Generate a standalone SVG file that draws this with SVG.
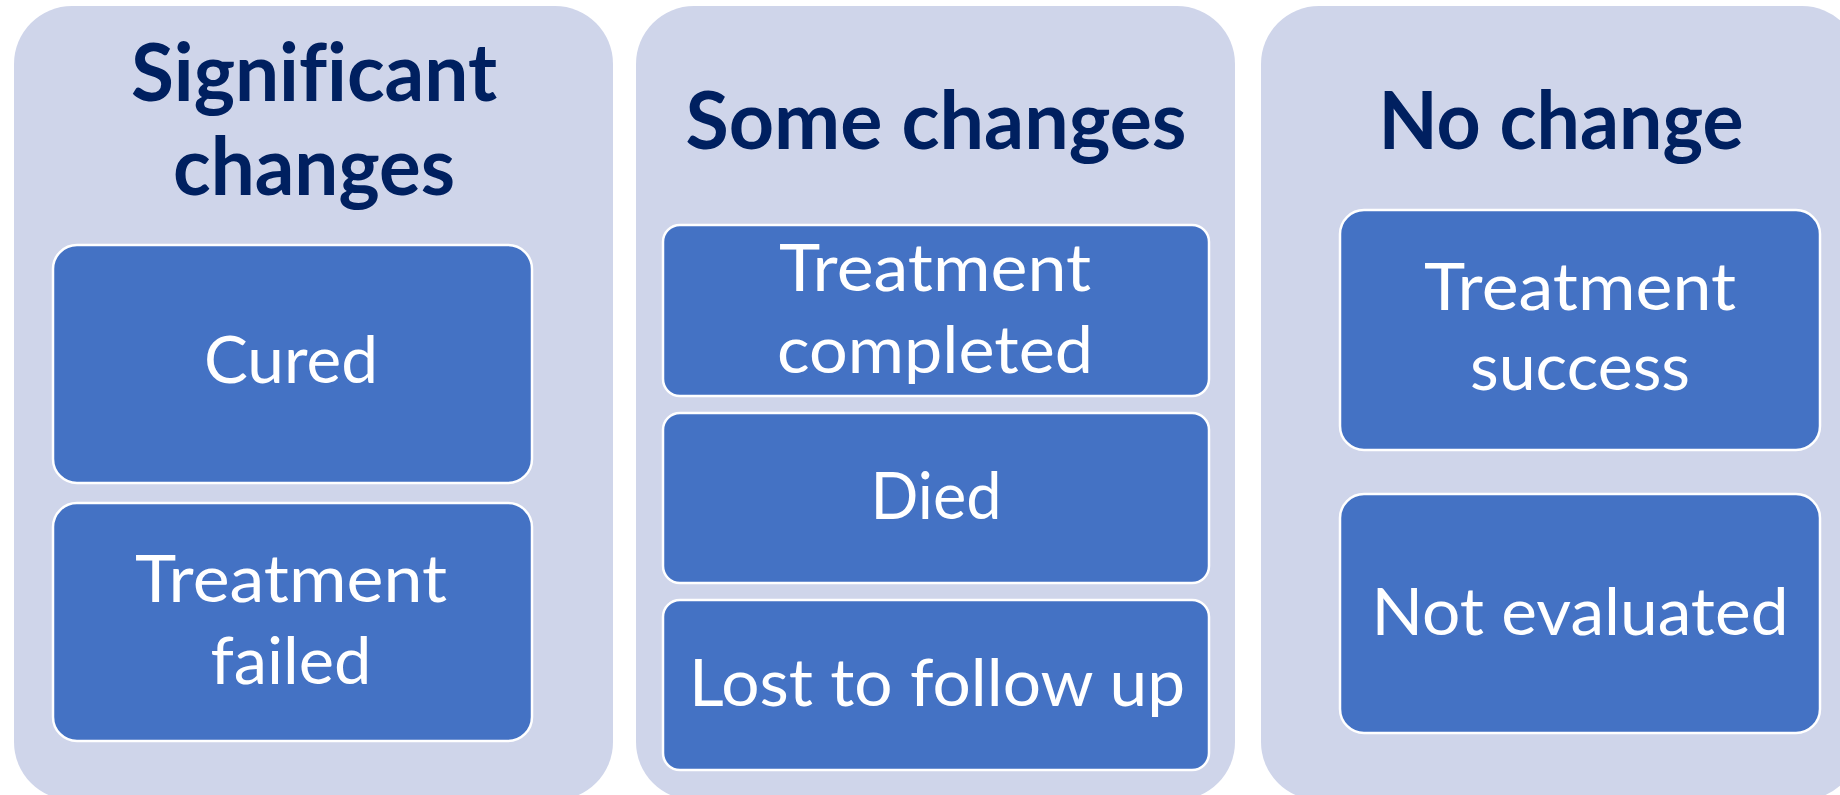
<svg xmlns="http://www.w3.org/2000/svg" width="1840" height="795" viewBox="0 0 1840 795">
<style>
.panel{fill:#CFD5EA;stroke:none}
.box{fill:#4472C4;stroke:#FFFFFF;stroke-width:2.5}
.title{font-family:Lato,"Liberation Sans",sans-serif;font-weight:bold;font-size:80px;fill:#002060;text-anchor:middle;font-variant-ligatures:none}
.lbl{font-family:Lato,"Liberation Sans",sans-serif;font-size:66px;fill:#FFFFFF;text-anchor:middle;font-variant-ligatures:none}
</style>
<rect width="1840" height="795" fill="#FFFFFF"/>
<g id="panel-significant">
  <rect class="panel" x="14" y="6" width="599" height="794" rx="58" ry="58"/>
  <text class="title" x="314" y="101" textLength="366" lengthAdjust="spacingAndGlyphs">Significant</text>
  <text class="title" x="314" y="195" textLength="282" lengthAdjust="spacingAndGlyphs">changes</text>
</g>
<g id="panel-some">
  <rect class="panel" x="636" y="6" width="599" height="794" rx="58" ry="58"/>
  <text class="title" x="936" y="149" textLength="501" lengthAdjust="spacingAndGlyphs">Some changes</text>
</g>
<g id="panel-nochange">
  <rect class="panel" x="1261" y="6" width="599" height="794" rx="58" ry="58"/>
  <text class="title" x="1561" y="149" textLength="365" lengthAdjust="spacingAndGlyphs">No change</text>
</g>
<g id="node-cured">
  <rect class="box" x="53" y="245" width="479" height="238" rx="24" ry="24"/>
  <text class="lbl" x="291" y="383" textLength="174" lengthAdjust="spacingAndGlyphs">Cured</text>
</g>
<g id="node-treatment-failed">
  <rect class="box" x="53" y="503" width="479" height="238" rx="24" ry="24"/>
  <text class="lbl" x="291" y="602" textLength="312" lengthAdjust="spacingAndGlyphs">Treatment</text>
  <text class="lbl" x="291" y="684" textLength="161" lengthAdjust="spacingAndGlyphs">failed</text>
</g>
<g id="node-treatment-completed">
  <rect class="box" x="663" y="225" width="546" height="171" rx="17" ry="17"/>
  <text class="lbl" x="935" y="291" textLength="312" lengthAdjust="spacingAndGlyphs">Treatment</text>
  <text class="lbl" x="935" y="373" textLength="316" lengthAdjust="spacingAndGlyphs">completed</text>
</g>
<g id="node-died">
  <rect class="box" x="663" y="413" width="546" height="170" rx="17" ry="17"/>
  <text class="lbl" x="936" y="519" textLength="131" lengthAdjust="spacingAndGlyphs">Died</text>
</g>
<g id="node-lost">
  <rect class="box" x="663" y="600" width="546" height="170" rx="17" ry="17"/>
  <text class="lbl" x="937" y="706" textLength="496" lengthAdjust="spacingAndGlyphs">Lost to follow up</text>
</g>
<g id="node-treatment-success">
  <rect class="box" x="1340" y="210" width="480" height="240" rx="24" ry="24"/>
  <text class="lbl" x="1580" y="310" textLength="312" lengthAdjust="spacingAndGlyphs">Treatment</text>
  <text class="lbl" x="1580" y="390" textLength="220" lengthAdjust="spacingAndGlyphs">success</text>
</g>
<g id="node-not-evaluated">
  <rect class="box" x="1340" y="494" width="480" height="239" rx="24" ry="24"/>
  <text class="lbl" x="1580" y="635" textLength="417" lengthAdjust="spacingAndGlyphs">Not evaluated</text>
</g>
<g id="connectors"></g>
</svg>
